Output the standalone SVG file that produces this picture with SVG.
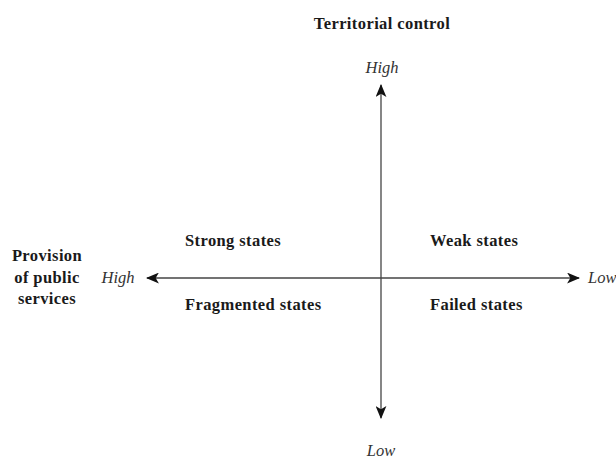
<svg xmlns="http://www.w3.org/2000/svg" width="616" height="461" viewBox="0 0 616 461">
<style>
.b{font-family:"Liberation Serif","Times New Roman",serif;font-weight:bold;font-size:16.5px;letter-spacing:0.4px;fill:#1a1a1a}
.i{font-family:"Liberation Serif","Times New Roman",serif;font-style:italic;font-size:16.5px;fill:#333}
.ax{stroke:#444;stroke-width:1.3;fill:none}
</style>
<defs>
<marker id="ah" viewBox="0 0 12 10" refX="11" refY="5" markerWidth="13" markerHeight="11" markerUnits="userSpaceOnUse" orient="auto-start-reverse">
<path d="M0,0 L12,5 L0,10 L3,5 Z" fill="#111"/>
</marker>
</defs>
<g id="connectors">
<line class="ax" x1="381" y1="85" x2="381" y2="418" marker-start="url(#ah)" marker-end="url(#ah)"/>
<line class="ax" x1="147" y1="278" x2="579" y2="278" marker-start="url(#ah)" marker-end="url(#ah)"/>
</g>
<g id="title"><text class="b" x="382" y="29" text-anchor="middle">Territorial control</text></g>
<g id="high-top"><text class="i" x="382" y="73" text-anchor="middle">High</text></g>
<g id="low-bottom"><text class="i" x="381" y="456" text-anchor="middle">Low</text></g>
<g id="provision"><text class="b" x="47" y="261" text-anchor="middle">Provision</text><text class="b" x="47" y="283" text-anchor="middle">of public</text><text class="b" x="47" y="304" text-anchor="middle">services</text></g>
<g id="high-left"><text class="i" x="118" y="283" text-anchor="middle">High</text></g>
<g id="low-right"><text class="i" x="588" y="283">Low</text></g>
<g id="strong"><text class="b" x="185" y="246">Strong states</text></g>
<g id="fragmented"><text class="b" x="185" y="310">Fragmented states</text></g>
<g id="weak"><text class="b" x="430" y="246">Weak states</text></g>
<g id="failed"><text class="b" x="430" y="310">Failed states</text></g>
</svg>
